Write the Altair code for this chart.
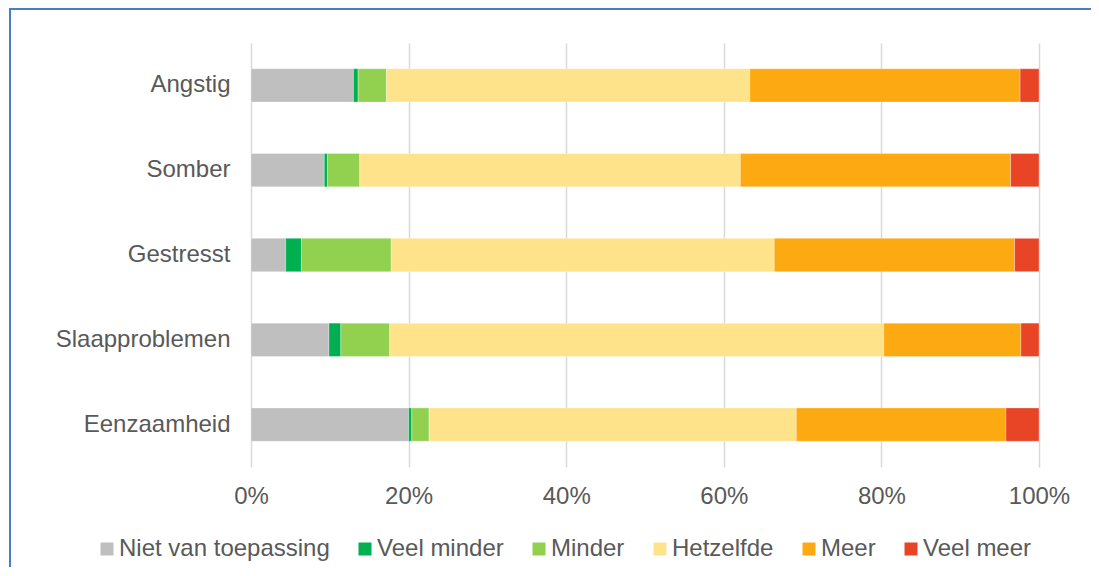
import altair as alt
import pandas as pd

categories = ["Angstig", "Somber", "Gestresst", "Slaapproblemen", "Eenzaamheid"]
series = ["Niet van toepassing", "Veel minder", "Minder", "Hetzelfde", "Meer", "Veel meer"]
colors = ["#BFBFBF", "#00B050", "#92D050", "#FFE38A", "#FDAA12", "#E84526"]

niet_van_toepassing = [13.0, 9.3, 4.4, 9.9, 20.0]
veel_minder = [0.6, 0.4, 2.0, 1.5, 0.4]
minder = [3.6, 4.1, 11.4, 6.2, 2.2]
hetzelfde = [46.1, 48.3, 48.6, 62.7, 46.6]
meer = [34.3, 34.3, 30.5, 17.4, 26.6]
veel_meer = [2.4, 3.6, 3.1, 2.3, 4.2]

values = [niet_van_toepassing, veel_minder, minder, hetzelfde, meer, veel_meer]
rows = []
for si, s in enumerate(series):
    for ci, c in enumerate(categories):
        rows.append({"categorie": c, "reeks": s, "volgorde": si, "waarde": values[si][ci]})
df = pd.DataFrame(rows)

FONT = "Liberation Sans"
TXT = "#595959"
FS = 24
BORDER = "#4A7EC4"

bars = alt.Chart(df).mark_bar(stroke="white", strokeWidth=0.5, strokeOpacity=0.6).encode(
    y=alt.Y("categorie:N", sort=categories, title=None,
            scale=alt.Scale(paddingInner=0.607, paddingOuter=0.3035),
            axis=alt.Axis(labelFontSize=FS, labelColor=TXT, labelFont=FONT,
                          ticks=False, domain=False, grid=False, labelPadding=21,
                          labelLimit=400)),
    x=alt.X("waarde:Q", stack="normalize", title=None,
            scale=alt.Scale(domain=[0, 1], nice=False),
            axis=alt.Axis(format=".0%", values=[0, 0.2, 0.4, 0.6, 0.8, 1.0],
                          labelFontSize=FS, labelColor=TXT, labelFont=FONT,
                          labelFlush=False,
                          ticks=False, domain=False, grid=True,
                          gridColor="#D9D9D9", gridWidth=1.5, labelPadding=17)),
    color=alt.Color("reeks:N", sort=series,
                    scale=alt.Scale(domain=series, range=colors),
                    legend=alt.Legend(title=None, orient="none", direction="horizontal",
                                      legendX=-156, legendY=494,
                                      symbolType="square", symbolSize=169,
                                      symbolStrokeWidth=0,
                                      labelFontSize=FS, labelColor=TXT, labelFont=FONT,
                                      labelLimit=400,
                                      labelOffset=0, columnPadding=23)),
    order=alt.Order("volgorde:Q"),
)

one = pd.DataFrame({"a": [0]})
border_left = alt.Chart(one).mark_rule(color=BORDER, strokeWidth=2).encode(
    x=alt.value(-241), y=alt.value(-34), y2=alt.value(800),
)
border_top = alt.Chart(one).mark_rule(color=BORDER, strokeWidth=2).encode(
    x=alt.value(-242), x2=alt.value(1200), y=alt.value(-34),
)

chart = alt.layer(border_left, border_top, bars).properties(
    width=788, height=424,
    padding={"left": 243, "top": 35, "right": 52, "bottom": 100},
    autosize=alt.AutoSizeParams(type="none"),
).configure_view(stroke=None)

chart.save("out.html", embed_options={"renderer": "svg", "actions": False})
